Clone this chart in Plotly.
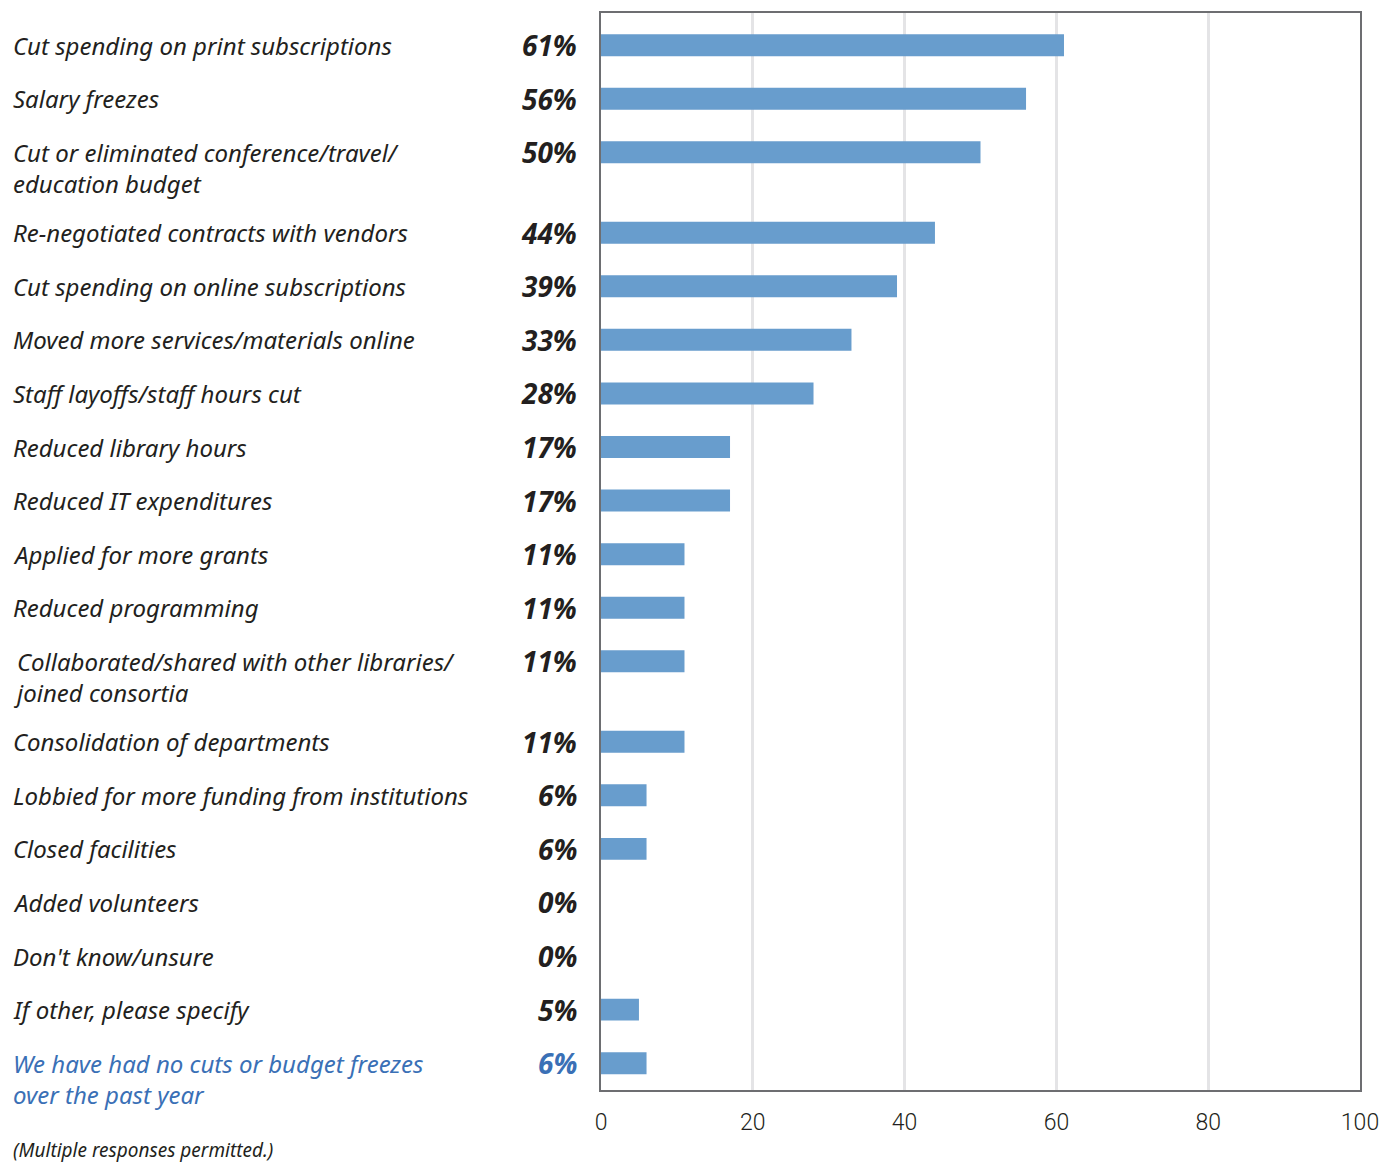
import plotly.graph_objects as go

# Survey responses (multiple responses permitted)
labels = [
    "Cut spending on print subscriptions",
    "Salary freezes",
    "Cut or eliminated conference/travel/\neducation budget",
    "Re-negotiated contracts with vendors",
    "Cut spending on online subscriptions",
    "Moved more services/materials online",
    "Staff layoffs/staff hours cut",
    "Reduced library hours",
    "Reduced IT expenditures",
    "Applied for more grants",
    "Reduced programming",
    "Collaborated/shared with other libraries/\njoined consortia",
    "Consolidation of departments",
    "Lobbied for more funding from institutions",
    "Closed facilities",
    "Added volunteers",
    "Don't know/unsure",
    "If other, please specify",
    "We have had no cuts or budget freezes\nover the past year",
]
values = [61, 56, 50, 44, 39, 33, 28, 17, 17, 11, 11, 11, 11, 6, 6, 0, 0, 5, 6]
highlight = [False] * 18 + [True]

x_ticks = [0, 20, 40, 60, 80, 100]
footnote = "(Multiple responses permitted.)"

BAR = "#689dcd"
TEXT = "#231f20"
BLUE = "#3a70b6"

W, H = 1379, 1163
ML, MR, MT, MB = 601, 19, 13, 73
plot_w = W - ML - MR

# Row positions: one unit per row, plus half a unit for each extra label line
ypos = []
y = 0.0
for lab in labels:
    ypos.append(y)
    y += 1 + 0.5 * (lab.count("\n"))

fig = go.Figure(go.Bar(
    x=values, y=ypos, orientation="h",
    marker=dict(color=BAR, line=dict(width=0)),
    width=0.41, hoverinfo="skip",
))

label_size = 24
line_px = 1.3 * label_size  # plotly's multi-line text spacing
label_font = "'Noto Sans', Lato, sans-serif"
annotations = []
for lab, v, yp, hl in zip(labels, values, ypos, highlight):
    col = BLUE if hl else TEXT
    lines = lab.split("\n")
    # first line is centred on the bar; extra lines hang below it
    annotations.append(dict(
        xref="paper", yref="y", x=(11 - ML) / plot_w, y=yp,
        yshift=-(len(lines) - 1) * line_px / 2,
        text="<br>".join(f"<i>{ln}</i>" for ln in lines),
        showarrow=False, xanchor="left", yanchor="middle", align="left",
        font=dict(family=label_font, size=label_size, color=col),
    ))
    annotations.append(dict(
        xref="paper", yref="y", x=(579 - ML) / plot_w, y=yp,
        text=f"<b><i>{v}%</i></b>", showarrow=False, xanchor="right", yanchor="middle",
        font=dict(family=label_font, size=28, color=col),
    ))

annotations.append(dict(
    xref="paper", yref="paper", x=(11 - ML) / plot_w, y=-(1150 - (H - MB)) / (H - MT - MB),
    text=f"<i>{footnote}</i>", showarrow=False, xanchor="left", yanchor="middle",
    font=dict(family=label_font, size=19, color=TEXT),
))

fig.update_layout(
    width=W, height=H,
    margin=dict(l=ML, r=MR, t=MT, b=MB, pad=0, autoexpand=False),
    paper_bgcolor="white", plot_bgcolor="white",
    showlegend=False,
    annotations=annotations,
    xaxis=dict(
        range=[0, 100], tickvals=x_ticks, ticks="", showgrid=True,
        gridcolor="#e4e4e6", gridwidth=3, zeroline=False,
        showline=True, linecolor="#6d6e71", linewidth=2, mirror=True,
        tickfont=dict(family="Roboto, sans-serif", size=23, color=TEXT, weight=300),
        ticklabelstandoff=10, ticklabeloverflow="allow", automargin=False,
    ),
    yaxis=dict(
        range=[ypos[-1] + 0.5, -0.6], showticklabels=False, showgrid=False,
        zeroline=False, showline=True, linecolor="#6d6e71", linewidth=2, mirror=True,
        ticks="", automargin=False,
    ),
)

fig.write_html("out.html")
